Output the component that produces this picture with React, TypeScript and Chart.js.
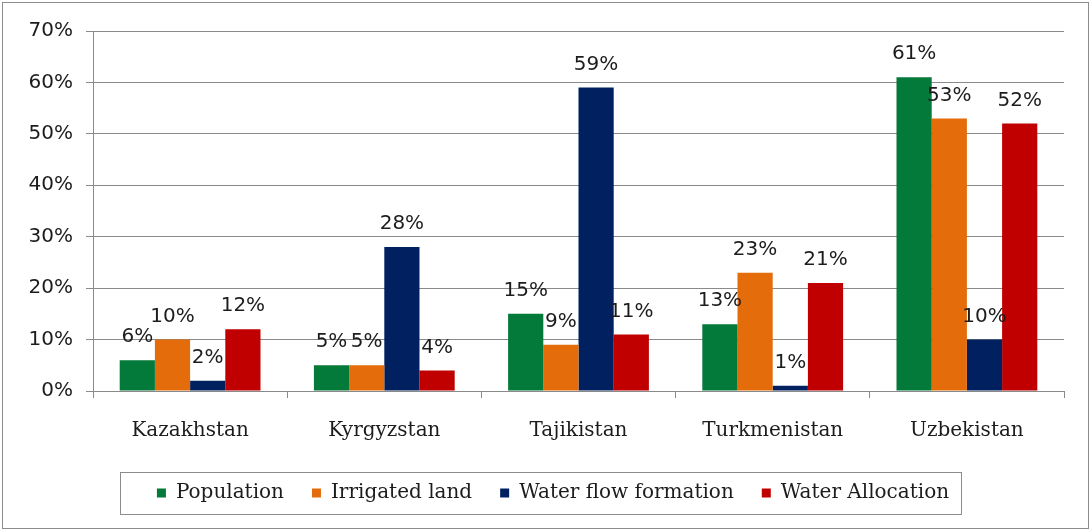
import React, { useEffect, useRef } from "react";
import { Chart, registerables } from "chart.js";

Chart.register(...registerables);

const categories = ["Kazakhstan", "Kyrgyzstan", "Tajikistan", "Turkmenistan", "Uzbekistan"];
const population = [6, 5, 15, 13, 61];
const irrigatedLand = [10, 5, 9, 23, 53];
const waterFlowFormation = [2, 28, 59, 1, 10];
const waterAllocation = [12, 4, 11, 21, 52];
const seriesNames = ["Population", "Irrigated land", "Water flow formation", "Water Allocation"];
const seriesColors = ["#03793A", "#E46C0A", "#002060", "#C00000"];
const yTicks = [0, 10, 20, 30, 40, 50, 60, 70];

const GRID = "#8a8a8a";
const TEXT = "#1c1c1c";
const LEGEND_SHIFT = 12;

const frameAndLabels = {
  id: "frameAndLabels",
  afterLayout(chart: any) {
    const lg = chart.legend;
    if (lg) {
      lg.left += LEGEND_SHIFT;
      lg.right += LEGEND_SHIFT;
    }
  },
  beforeDraw(chart: any) {
    const ctx = chart.ctx;
    ctx.save();
    ctx.fillStyle = "#ffffff";
    ctx.fillRect(0, 0, chart.width, chart.height);
    ctx.strokeStyle = "#8c8c8c";
    ctx.lineWidth = 1;
    ctx.strokeRect(2.5, 2.5, chart.width - 5, chart.height - 3);
    ctx.restore();
  },
  afterDatasetsDraw(chart: any) {
    const ctx = chart.ctx;
    ctx.save();
    ctx.font = "20px 'DejaVu Sans'";
    ctx.fillStyle = TEXT;
    ctx.textAlign = "center";
    ctx.textBaseline = "middle";
    chart.data.datasets.forEach((ds: any, di: number) => {
      const meta = chart.getDatasetMeta(di);
      meta.data.forEach((el: any, i: number) => {
        const v = ds.data[i];
        ctx.fillText(v + "%", el.x, el.y - 23);
      });
    });
    ctx.restore();
  },
  afterDraw(chart: any) {
    const lg = chart.legend;
    if (!lg || !lg.legendHitBoxes || !lg.legendHitBoxes.length) return;
    const boxes = lg.legendHitBoxes;
    let left = Infinity, right = -Infinity, cy = 0;
    boxes.forEach((b: any) => {
      left = Math.min(left, b.left);
      right = Math.max(right, b.left + b.width);
      cy = b.top + b.height / 2;
    });
    const ctx = chart.ctx;
    ctx.save();
    ctx.strokeStyle = "#8c8c8c";
    ctx.lineWidth = 1;
    ctx.strokeRect(Math.round(left - 37) + 0.5, Math.round(cy - 21) + 0.5, Math.round(right - left + 49), 42);
    ctx.restore();
  },
};

export default function App() {
  const ref = useRef<HTMLCanvasElement>(null);
  useEffect(() => {
    if (!ref.current) return;
    const data = [population, irrigatedLand, waterFlowFormation, waterAllocation];
    const chart = new Chart(ref.current, {
      type: "bar",
      data: {
        labels: categories,
        datasets: data.map((d, i) => ({
          label: seriesNames[i],
          data: d,
          backgroundColor: seriesColors[i],
          borderWidth: 0,
          categoryPercentage: 0.725,
          barPercentage: 1,
        })),
      },
      options: {
        animation: false,
        responsive: false,
        devicePixelRatio: 1,
        layout: { padding: { top: 31, right: 27, left: 18, bottom: 16 } },
        plugins: {
          tooltip: { enabled: false },
          legend: {
            position: "bottom",
            labels: {
              boxWidth: 9,
              boxHeight: 9,
              padding: 28,
              color: TEXT,
              font: { family: "'DejaVu Serif'", size: 20 },
            },
          },
        },
        scales: {
          x: {
            grid: { drawOnChartArea: false, offset: true, tickLength: 7, color: GRID },
            border: { color: GRID },
            ticks: { color: TEXT, padding: 21, font: { family: "'DejaVu Serif'", size: 20 } },
            afterFit(scale: any) {
              scale.height = 64;
            },
          },
          y: {
            min: 0,
            max: 70,
            afterBuildTicks(scale: any) {
              scale.ticks = yTicks.map((v) => ({ value: v }));
            },
            grid: { color: GRID, tickLength: 7 },
            border: { color: GRID },
            ticks: {
              color: TEXT,
              padding: 13,
              font: { family: "'DejaVu Sans'", size: 20 },
              callback: (v: any) => v + "%",
            },
            afterFit(scale: any) {
              scale.width = 75;
            },
          },
        },
      },
      plugins: [frameAndLabels],
    });
    return () => chart.destroy();
  }, []);
  return (
    <div style={{ position: "fixed", left: 0, top: 0, width: 1091, height: 529, background: "#fff" }}>
      <canvas ref={ref} width={1091} height={529} />
    </div>
  );
}
